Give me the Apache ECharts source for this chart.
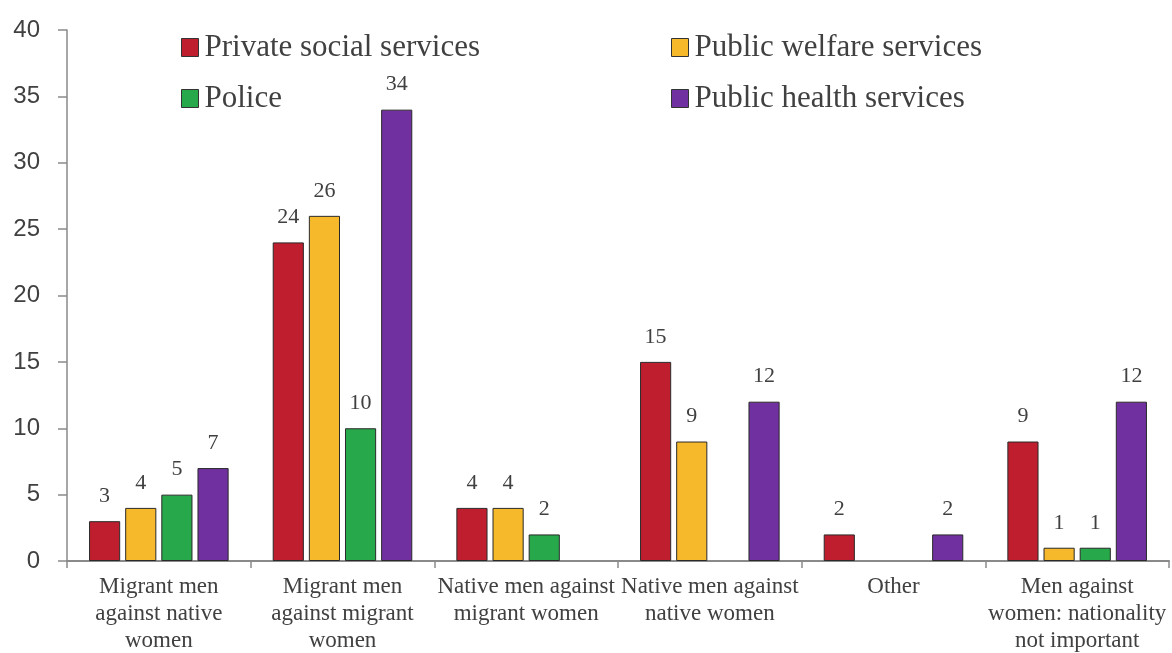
<!DOCTYPE html>
<html>
<head>
<meta charset="utf-8">
<script src="https://cdn.jsdelivr.net/npm/echarts@6/dist/echarts.min.js"></script>
<style>html,body{margin:0;padding:0;background:#fff}#c{width:1172px;height:653px}</style>
</head>
<body>
<div id="c"></div>
<script>
const categories = [
  "Migrant men\nagainst native\nwomen",
  "Migrant men\nagainst migrant\nwomen",
  "Native men against\nmigrant women",
  "Native men against\nnative women",
  "Other",
  "Men against\nwomen: nationality\nnot important"
];
const seriesNames = ["Private social services", "Public welfare services", "Police", "Public health services"];
const privateSocial = [3, 24, 4, 15, 2, 9];
const publicWelfare = [4, 26, 4, 9, null, 1];
const police = [5, 10, 2, null, null, 1];
const publicHealth = [7, 34, null, 12, 2, 12];
const colors = ["#BE1E2D", "#F6B92B", "#27A84A", "#7030A0"];
const yTicks = [0, 5, 10, 15, 20, 25, 30, 35, 40];

const serif = "Liberation Serif";
const textColor = "#404040";
const values = [privateSocial, publicWelfare, police, publicHealth];

const legendBase = {
  orient: 'vertical', top: 27, itemGap: 20,
  itemWidth: 17, itemHeight: 18, icon: 'rect',
  itemStyle: {borderColor: '#333', borderWidth: 1},
  textStyle: {fontFamily: serif, fontSize: 31, color: textColor, padding: [0, 0, 0, 1]}
};

const chart = echarts.init(document.getElementById('c'), null, {renderer: 'canvas'});
chart.setOption({
  animation: false,
  backgroundColor: '#fff',
  grid: {left: 67, right: 3, top: 30, bottom: 92, containLabel: false, outerBoundsMode: 'none'},
  legend: [
    Object.assign({}, legendBase, {data: [seriesNames[0], seriesNames[2]], left: 176}),
    Object.assign({}, legendBase, {data: [seriesNames[1], seriesNames[3]], left: 666})
  ],
  xAxis: {
    type: 'category',
    data: categories,
    axisLine: {lineStyle: {color: '#8a8a8a', width: 2}},
    axisTick: {show: true, length: 7, lineStyle: {color: '#8a8a8a', width: 1.5}},
    axisLabel: {interval: 0, fontFamily: serif, fontSize: 23, lineHeight: 27, color: textColor, margin: 12}
  },
  yAxis: {
    type: 'value',
    min: 0, max: 40, interval: 5,
    splitLine: {show: false},
    axisLine: {show: true, lineStyle: {color: '#8a8a8a', width: 1.5}},
    axisTick: {show: true, length: 9, lineStyle: {color: '#8a8a8a', width: 1.5}},
    axisLabel: {fontFamily: 'Liberation Sans', fontSize: 24, color: textColor, margin: 27,
      formatter: v => yTicks.includes(v) ? String(v) : ''}
  },
  series: seriesNames.map((name, i) => ({
    name: name,
    type: 'bar',
    data: values[i],
    barGap: '16%',
    barCategoryGap: '24%',
    itemStyle: {color: colors[i], borderColor: '#2a2a2a', borderWidth: 1},
    label: {show: true, position: 'top', distance: 14, fontFamily: serif, fontSize: 22, color: textColor}
  }))
});
</script>
</body>
</html>
